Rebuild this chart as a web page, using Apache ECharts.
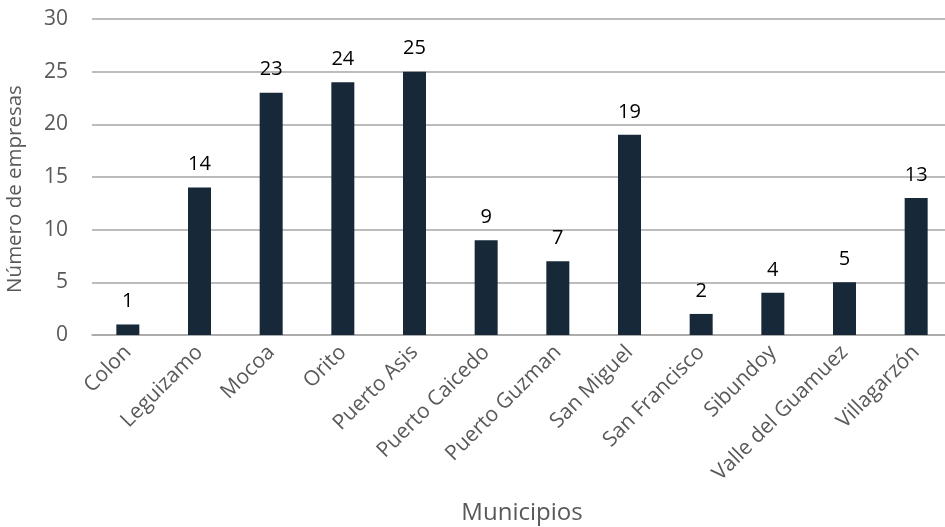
<!DOCTYPE html>
<html><head><meta charset="utf-8">
<script src="https://cdn.jsdelivr.net/npm/echarts@6/dist/echarts.min.js"></script>
<style>html,body{margin:0;padding:0;background:#fff}#c{width:945px;height:527px}</style>
</head><body><div id="c"></div>
<script>
var categories = ["Colon","Leguizamo","Mocoa","Orito","Puerto Asis","Puerto Caicedo","Puerto Guzman","San Miguel","San Francisco","Sibundoy","Valle del Guamuez","Villagarzón"];
var values = [1,14,23,24,25,9,7,19,2,4,5,13];
var yTicks = [0,5,10,15,20,25,30];
var chart = echarts.init(document.getElementById('c'));
var font = '"Open Sans", sans-serif';
chart.setOption({
  animation:false,
  grid:{left:92,top:19,width:860,bottom:192,containLabel:false,outerBoundsMode:'none'},
  xAxis:{type:'category',data:categories,
    name:'Municipios',nameLocation:'middle',nameGap:166,
    nameTextStyle:{color:'#595959',fontSize:24,fontFamily:font},
    axisLine:{lineStyle:{color:'#a6a6a6',width:1.5}},axisTick:{show:false},
    axisLabel:{rotate:45,interval:0,color:'#595959',fontSize:21,fontFamily:font,margin:14}},
  yAxis:{type:'value',min:yTicks[0],max:yTicks[yTicks.length-1],interval:5,
    name:'Número de empresas',nameLocation:'middle',nameGap:66,
    nameTextStyle:{color:'#595959',fontSize:20.5,fontFamily:font,padding:[0,24,0,0]},
    axisLine:{show:false},axisTick:{show:false},
    axisLabel:{color:'#595959',fontSize:21,fontFamily:font,margin:24},
    splitLine:{lineStyle:{color:'#a6a6a6',width:1.5}}},
  series:[{type:'bar',data:values,barWidth:23,
    itemStyle:{color:'#172838'},
    label:{show:true,position:'top',distance:13,color:'#000',fontSize:20,fontFamily:font}}]
});
</script></body></html>
